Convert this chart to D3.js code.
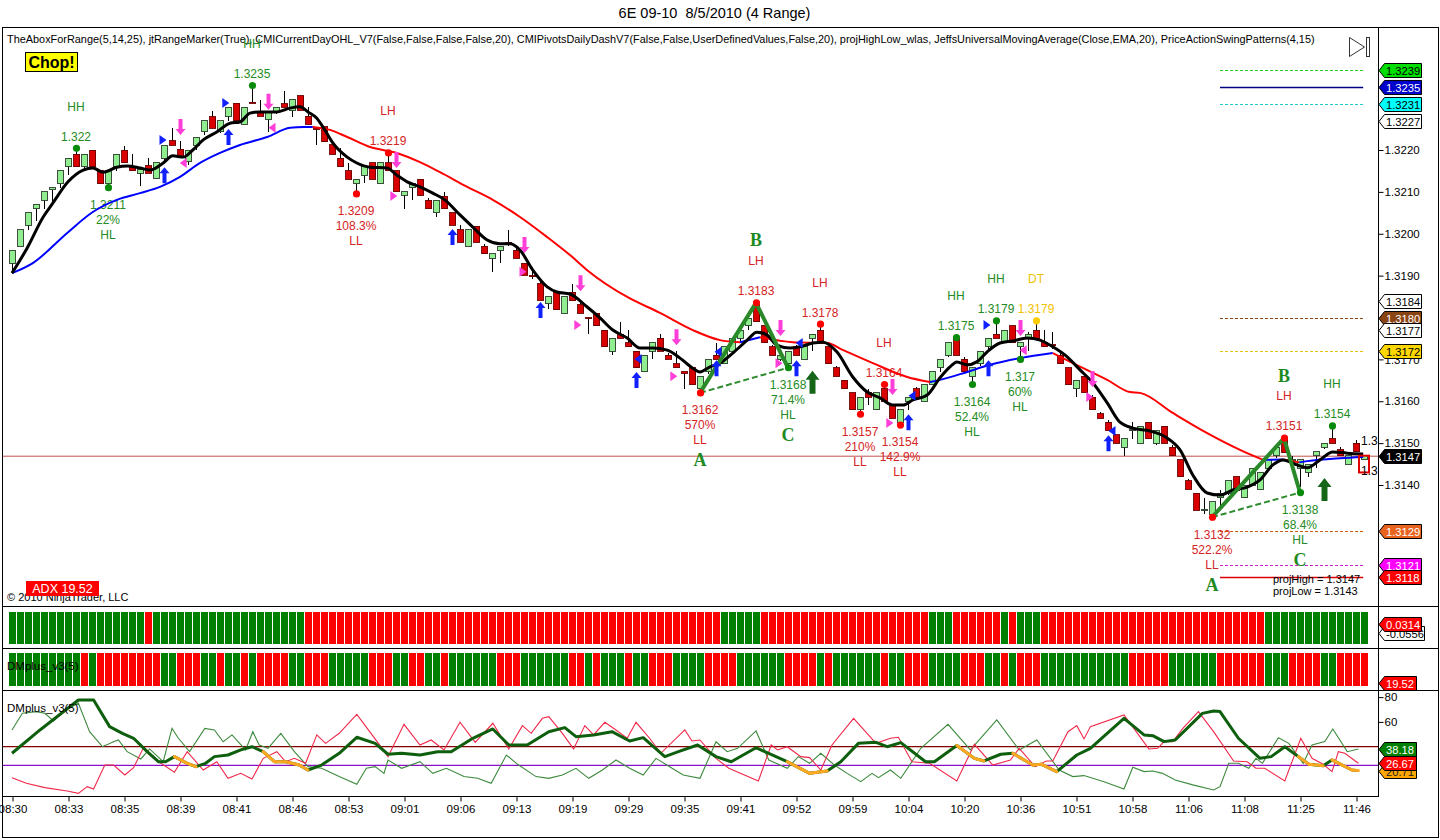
<!DOCTYPE html>
<html><head><meta charset="utf-8">
<script src="https://cdn.jsdelivr.net/npm/d3@7"></script>
<style>
html,body{margin:0;padding:0;background:#fff;overflow:hidden;}
svg{display:block;}
</style></head><body>
<svg id="c" width="1440" height="840"></svg>
<script>
// ---------------- DATA ----------------
const chartTitle = "6E 09-10  8/5/2010 (4 Range)";
const indicatorLine = "TheAboxForRange(5,14,25), jtRangeMarker(True), CMICurrentDayOHL_V7(False,False,False,False,20), CMIPivotsDailyDashV7(False,False,UserDefinedValues,False,20), projHighLow_wlas, JeffsUniversalMovingAverage(Close,EMA,20), PriceActionSwingPatterns(4,15)";

const timeLabels = ["08:30","08:33","08:35","08:39","08:41","08:46","08:53","09:01","09:06","09:13","09:19","09:29","09:35","09:41","09:52","09:59","10:04","10:20","10:36","10:51","10:58","11:06","11:08","11:25","11:46"];
const tickBars = [0,7,14,21,28,35,42,49,56,63,70,77,84,91,98,105,112,119,126,133,140,147,154,161,168];
const priceTicks = [1.3140,1.3150,1.3160,1.3170,1.3190,1.3200,1.3210,1.3220];
const indTicks = [60,80];

const open = [1.3193,1.3197,1.3202,1.3206,1.3208,1.32105,1.3212,1.3216,1.3219,1.3216,
1.3220,1.3215,1.3212,1.3216,1.3220,1.3216,1.32145,1.32162,1.32132,1.3218,
1.32222,1.32202,1.32172,1.32211,1.32243,1.3228,1.32243,1.32281,1.32312,1.32262,
1.32314,1.32292,1.32272,1.32292,1.32311,1.32295,1.3233,1.32281,1.32252,1.32255,
1.32212,1.3218,1.3215,1.3212,1.3214,1.3217,1.3212,1.3217,1.3215,1.32092,
1.3211,1.3213,1.3208,1.3205,1.3209,1.3205,1.3201,1.3197,1.32018,1.3197,
1.31941,1.31961,1.31978,1.31961,1.3193,1.3190,1.31881,1.31833,1.31861,1.3181,
1.3186,1.3183,1.3180,1.3181,1.3177,1.3172,1.3176,1.3174,1.3172,1.3167,
1.3172,1.3175,1.3171,1.3169,1.3167,1.3168,1.3163,1.3167,1.3171,1.3169,
1.3172,1.3175,1.3178,1.3183,1.3178,1.3173,1.3170,1.3169,1.3173,1.3170,
1.3175,1.3177,1.3173,1.3168,1.3165,1.3162,1.3158,1.3162,1.3158,1.3163,
1.3159,1.3155,1.3160,1.3163,1.3160,1.3164,1.3168,1.3171,1.3175,1.3170,
1.3166,1.3169,1.3173,1.3176,1.3174,1.3178,1.3173,1.3175,1.3177,1.3174,
1.31735,1.3171,1.3168,1.3163,1.3166,1.3161,1.3157,1.3155,1.3152,1.3149,
1.3153,1.3150,1.3155,1.3150,1.3154,1.3149,1.3146,1.3141,1.3138,1.3134,
1.3133,1.3137,1.3138,1.3142,1.3137,1.3140,1.3139,1.3144,1.3147,1.3151,
1.3146,1.3144,1.3143,1.3147,1.3149,1.3151,1.31484,1.3145,1.3150,1.3146];
const high = [1.3196,1.3201,1.3205,1.3207,1.3210,1.3211,1.3215,1.3218,1.32204,1.3219,
1.3220,1.3215,1.3215,1.3219,1.3221,1.3219,1.32155,1.3218,1.3217,1.3221,
1.32252,1.32222,1.3220,1.3223,1.3227,1.32292,1.3227,1.32302,1.32312,1.32302,
1.32354,1.3232,1.32292,1.32302,1.32341,1.32321,1.3233,1.32302,1.32255,1.32255,
1.32215,1.32204,1.32168,1.3213,1.3216,1.3217,1.3217,1.32193,1.3215,1.3210,
1.3212,1.3213,1.32085,1.3208,1.3210,1.3205,1.3202,1.3201,1.32018,1.31975,
1.31952,1.3197,1.3201,1.31965,1.3193,1.31921,1.31885,1.3185,1.31861,1.31851,
1.3188,1.31835,1.31802,1.3181,1.3177,1.3175,1.3179,1.3177,1.3172,1.3171,
1.3174,1.3176,1.31715,1.3172,1.3167,1.3168,1.3166,1.3170,1.3174,1.3173,
1.3175,1.3177,1.3180,1.31835,1.3178,1.31735,1.3171,1.3172,1.31735,1.3173,
1.3176,1.31784,1.3173,1.31685,1.3165,1.3162,1.3161,1.3163,1.3162,1.3164,
1.3159,1.3158,1.3161,1.31635,1.3164,1.3167,1.3170,1.3174,1.31752,1.31705,
1.3168,1.3172,1.3175,1.31792,1.3177,1.3178,1.3174,1.31765,1.31792,1.3177,
1.31765,1.31715,1.3168,1.3165,1.3166,1.31615,1.31575,1.31555,1.3152,1.3151,
1.3155,1.3154,1.3155,1.3153,1.3154,1.31495,1.3146,1.31415,1.3138,1.3137,
1.3136,1.31388,1.3141,1.3142,1.3140,1.3144,1.3143,1.3146,1.3149,1.31512,
1.3147,1.3146,1.3145,1.3148,1.3150,1.31541,1.3149,1.3147,1.31508,1.3147];
const low = [1.3191,1.3197,1.3201,1.3203,1.3206,1.3207,1.3211,1.3214,1.3216,1.3215,
1.3216,1.3212,1.3211,1.3215,1.3217,1.3215,1.32115,1.32144,1.3213,1.32175,
1.32211,1.32183,1.32165,1.3220,1.32235,1.32252,1.3224,1.3227,1.3227,1.32262,
1.32312,1.32281,1.32244,1.32285,1.32302,1.32279,1.32295,1.32262,1.32212,1.3222,
1.3219,1.3216,1.3213,1.32095,1.32122,1.3213,1.3212,1.3215,1.3210,1.3206,
1.3208,1.3209,1.3206,1.3204,1.3206,1.3202,1.3198,1.3197,1.3198,1.31952,
1.31909,1.31929,1.3197,1.31941,1.31901,1.31891,1.31841,1.3182,1.31819,1.3181,
1.3184,1.3181,1.3176,1.3178,1.3173,1.3171,1.3175,1.3173,1.3168,1.3167,
1.3170,1.3172,1.3170,1.3168,1.3163,1.3164,1.3162,1.31665,1.3170,1.3169,
1.3172,1.3174,1.3177,1.3179,1.3174,1.3171,1.31695,1.3168,1.3171,1.3170,
1.3172,1.3174,1.3169,1.3166,1.3163,1.3158,1.31569,1.3159,1.3158,1.3160,
1.3156,1.31543,1.3158,1.3161,1.3160,1.3164,1.3167,1.31705,1.3171,1.3167,
1.3164,1.31685,1.3172,1.3175,1.3174,1.3174,1.3170,1.3172,1.3175,1.3173,
1.31725,1.3169,1.3164,1.3161,1.3162,1.3158,1.3156,1.3153,1.3150,1.3147,
1.3151,1.3150,1.3151,1.31495,1.3150,1.3147,1.3142,1.3139,1.3134,1.3133,
1.31323,1.3135,1.31375,1.31388,1.3137,1.31398,1.3139,1.31435,1.31465,1.31477,
1.3143,1.31395,1.3142,1.3144,1.31485,1.3150,1.3147,1.3145,1.3148,1.3146];
const close = [1.3196,1.3201,1.3205,1.3207,1.3210,1.3211,1.3215,1.3218,1.3216,1.3219,
1.3216,1.3212,1.3215,1.3219,1.3217,1.3215,1.32153,1.32144,1.3217,1.3221,
1.32211,1.32183,1.3220,1.3223,1.3227,1.32252,1.3227,1.32302,1.3227,1.32302,
1.32312,1.32281,1.32292,1.32302,1.32302,1.32321,1.32295,1.32262,1.3225,1.3222,
1.3219,1.3216,1.3213,1.3213,1.3216,1.3213,1.3217,1.3215,1.3210,1.3210,
1.3212,1.32092,1.3206,1.3208,1.3206,1.3202,1.3198,1.3201,1.3198,1.31952,
1.31952,1.3197,1.31975,1.31941,1.31901,1.31898,1.31841,1.31849,1.31819,1.31851,
1.3184,1.3181,1.31798,1.3178,1.3173,1.3175,1.3175,1.3173,1.3168,1.3171,
1.3174,1.3172,1.3170,1.3168,1.31668,1.3164,1.3166,1.3170,1.3170,1.3173,
1.3175,1.3177,1.31798,1.3179,1.3174,1.3171,1.3171,1.3172,1.3171,1.3173,
1.3176,1.3174,1.3169,1.3166,1.3163,1.3158,1.3161,1.3161,1.3162,1.3160,
1.3156,1.3158,1.3161,1.3161,1.3164,1.3167,1.3170,1.3174,1.3171,1.3167,
1.3168,1.3172,1.3175,1.3175,1.3177,1.3174,1.3174,1.3176,1.3175,1.3173,
1.31733,1.3169,1.3164,1.3165,1.3162,1.3158,1.3156,1.3153,1.3150,1.3151,
1.31532,1.3154,1.3151,1.3153,1.3150,1.3147,1.3142,1.3139,1.3134,1.31342,
1.3136,1.3138,1.3141,1.31388,1.3140,1.3144,1.3143,1.3146,1.3149,1.31477,
1.31462,1.3146,1.3145,1.3148,1.3150,1.3150,1.3147,1.3147,1.3148,1.3147];

// fast moving average (black), read at sample bars
const maBar = [0,1.9,3.9,5.1,7,8.9,10.1,11.4,13.1,14.4,
16,17.25,18.9,20.1,21.4,22.6,23.9,25.6,27.25,28.5,
29.75,31,33.1,34.75,36,37,38.1,39.1,40.1,41.9,
43.1,44.75,46.9,48.1,49.4,51,52.6,54.1,56,57.6,
59.4,61,62.25,63.5,65.1,66.9,68.1,69.75,71.9,73.5,
75.1,76.9,78.5,80.1,81.9,83.5,85.1,86,87.25,88.5,
90.1,91.9,93.1,94.4,95.6,97.25,98.5,100.1,101.4,103.1,
105.1,106.9,108.5,110.1,111.4,112.6,114.4,116,117.25,118.1,
119.4,120.6,121.9,123.5,125.1,126.9,128.5,130.1,131.9,133.5,
135.1,136.9,138.5,140.1,142.25,144.4,146,147.6,149.4,151,
152.6,154.4,156,157.6,158.9,160.6,161.9,163.5,165.1,166.9,168.9];
const maVal = [1.31906,1.31966,1.32040,1.32073,1.32124,1.32152,1.32157,1.32147,1.32159,1.32162,
1.32157,1.32152,1.32169,1.32186,1.32183,1.32200,1.32224,1.32243,1.32264,1.32267,
1.32288,1.32291,1.32291,1.32300,1.32303,1.32291,1.32276,1.32248,1.32217,1.32183,
1.32169,1.32159,1.32157,1.32140,1.32124,1.32112,1.32097,1.32081,1.32045,1.32016,
1.31985,1.31976,1.31976,1.31961,1.31913,1.31873,1.31861,1.31856,1.31825,1.31799,
1.31770,1.31751,1.31727,1.31727,1.31722,1.31703,1.31679,1.31670,1.31682,1.31691,
1.31715,1.31746,1.31765,1.31758,1.31734,1.31727,1.31730,1.31739,1.31741,1.31718,
1.31658,1.31622,1.31608,1.31591,1.31591,1.31603,1.31615,1.31656,1.31682,1.31694,
1.31687,1.31694,1.31718,1.31739,1.31744,1.31751,1.31746,1.31730,1.31706,1.31675,
1.31644,1.31596,1.31550,1.31536,1.31529,1.31512,1.31484,1.31424,1.31381,1.31376,
1.31388,1.31395,1.31412,1.31448,1.31460,1.31448,1.31441,1.31460,1.31479,1.31476,1.31474];

// EMA(20) (blue rising / red falling), read at sample bars
const emaBar = [0,2.6,6.9,10.1,13.1,16,18.5,21,23.5,26,
28.5,31.9,34.75,36.5,37.6,39.75,41.9,44.75,48.1,51,
53.5,56.9,60.1,63.5,66.9,69.75,71.9,76.9,81,85.1,
88.5,91,93.5,97.6,101.9,103.9,107.6,111.9,114.75,116,
119.4,122.25,126,130.1,132.6,136.9,139.75,141,145.1,149.4,
153.5,156.4,158.9,160.9,161.9,166,168.9];
const emaVal = [1.31906,1.31930,1.32002,1.32052,1.32081,1.32097,1.32112,1.32136,1.32169,1.32193,
1.32212,1.32231,1.32253,1.32255,1.32255,1.32248,1.32231,1.32207,1.32193,1.32171,
1.32147,1.32112,1.32081,1.32040,1.31992,1.31949,1.31913,1.31849,1.31811,1.31770,
1.31746,1.31741,1.31753,1.31741,1.31739,1.31722,1.31691,1.31658,1.31646,1.31651,
1.31670,1.31687,1.31703,1.31715,1.31691,1.31651,1.31622,1.31620,1.31572,1.31524,
1.31484,1.31460,1.31461,1.31454,1.31457,1.31464,1.31467];

// swing points
const swingBar   = [8,12,30,43,47,86,93,97,101,106,109,111,118,120,123,126,128,150,159,161,165];
const swingPrice = [1.32204,1.3211,1.32354,1.32095,1.32193,1.3162,1.31835,1.3168,1.31784,1.31569,1.3164,1.31543,1.31752,1.3164,1.31792,1.3170,1.31792,1.31323,1.31512,1.31382,1.31541];
const swingKind  = ["H","L","H","L","H","L","H","L","H","L","H","L","H","L","H","L","H","L","H","L","H"];
const swingText  = ["1.322","1.3211","1.3235","1.3209","1.3219","1.3162","1.3183","1.3168","1.3178","1.3157","1.3164","1.3154","1.3175","1.3164","1.3179","1.317","1.3179","1.3132","1.3151","1.3138","1.3154"];
const swingPct   = ["","22%","","108.3%","","570%","","71.4%","","210%","","142.9%","","52.4%","","60%","","522.2%","","68.4%",""];
const swingLabel = ["HH","HL","HH","LL","LH","LL","LH","HL","LH","LL","LH","LL","HH","HL","HH","HL","DT","LL","LH","HL","HH"];
const swingABC   = ["","","","","","A","B","C","","","","","","","","","","A","B","C",""];
const abcGroups  = [[86,93,97],[150,159,161]];

// markers (bar, price)
const blueUpBar = [19,27,55,66,78,88,98,112,122,137];
const blueUpPrice = [1.3214,1.32231,1.31992,1.31818,1.31651,1.31679,1.31679,1.3155,1.31679,1.3150];
const pinkDownBar = [21,32,48,64,71,83,96,110,126,135];
const pinkDownPrice = [1.32255,1.32315,1.32176,1.31973,1.31882,1.31753,1.31775,1.31634,1.31775,1.31653];
const blueRightBar = [18.75,26.6,121.75];
const blueRightPrice = [1.32224,1.32312,1.31782];
const pinkLeftBar = [21.4,32.5,126.4];
const pinkLeftPrice = [1.32169,1.32253,1.31722];
const pinkRightBar = [47.6,63.75,70.6,82.6,95.75,109.6,134.6];
const pinkRightPrice = [1.3209,1.31909,1.31782,1.3166,1.31691,1.31548,1.3161];
const blueLeftBar = [78.25,88.25,98.4,112.5,137.5];
const blueLeftPrice = [1.31701,1.31718,1.31739,1.31613,1.31529];
const greenUpBar = [100,164];
const greenUpPrice = [1.31644,1.31388];

// levels and labels
const levelPrice = [1.3239,1.3235,1.3231,1.3180,1.3172,1.3129,1.3121,1.3118];
const levelFromBar = 151, levelToBar = 168.9;
const lastPrice = 1.3147;
const projHigh = 1.3147, projLow = 1.3143;
const axisLabelPrice = [1.3239,1.3235,1.3231,1.3227,1.3184,1.3180,1.3177,1.3172,1.3147,1.3129,1.3121,1.3118];
const adxValue = 19.52;
const indLabelVal = [20.71,26.67,38.18];

// bottom panels: run-length colour sequences per bar
const panel2Runs = [["G",17],["R",1],["G",19],["R",52],["G",5],["R",21],["G",3],["R",6],["G",1],["R",1],["G",3],["R",28],["G",13]];
const panel3Runs = [["G",9],["R",1],["G",1],["R",8],["G",2],["R",3],["G",2],["R",1],["G",2],["R",1],["G",1],["R",4],["G",2],["R",3],["G",5],["R",3],["G",2],["R",2],["G",2],["R",1],["G",6],["R",3],["G",6],["R",2],["G",1],["R",1],["G",3],["R",1],["G",2],["R",3],["G",4],["R",4],["G",6],["R",4],["G",1],["R",1],["G",6],["R",1],["G",2],["R",3],["G",4],["R",3],["G",2],["R",1],["G",1],["R",3],["G",11],["R",5],["G",6],["R",6],["G",3],["R",4],["G",2],["R",4]];

// DMplus panel
const adxBar = [0,3.5,8.3,10.2,12.2,13.8,15.2,16.9,18.3,19.2,
20.3,21.9,23,24.2,25.3,27,28.6,30,31.4,32.8,
34.2,35.9,37,38.7,40.9,43.1,45.4,47,48.7,51,
53.2,54.9,57.6,60.1,62.1,64.4,67.1,69.1,70.5,72.7,
75,77.2,78.9,81.6,83.3,85.7,88,89.9,93,96.9,
99.7,101.9,103.6,105.8,108,109.4,111.1,114.2,115.3,118.1,
120.3,121.5,123.6,125.1,127.6,128.7,130.6,133.1,134.8,139,
141.5,142.6,144,145.4,148.8,150.2,151,153.3,156,157.4,
159.1,160.8,162.1,163.9,165,166.1,167.5,168.3];
const adxVal = [34.7,53.5,77.7,77.7,56.2,50.8,46.8,36,27.9,27.9,
32,26.6,23.9,26.6,32,33.3,37.4,40,36,27.9,
27.9,25.2,21.2,25.2,34.7,47.6,42.7,33.9,34.7,33.3,
36,36,46.8,54.3,41.4,41.4,52.1,55.4,48.1,49.5,
52.1,44.6,47.3,32,36,41.4,32,27.9,39.2,27.9,
18.5,20.4,27.9,42.7,43.5,40,43.3,27.9,27.9,40.9,
30.6,28.5,33.9,34.7,25.2,25.8,19.9,33.3,38.7,62.9,
49.5,48.9,44.1,45.4,66.9,68.8,68.3,46.8,30.6,32,
40,32,25.8,24.7,29.3,25.8,21.2,20.71];
const adxWeak = [0,0,0,0,0,0,0,0,0,0,
1,1,0,0,0,0,0,0,1,1,
1,1,0,0,0,0,0,0,0,0,
0,0,0,0,0,0,0,0,0,0,
0,0,0,0,0,0,0,0,0,1,
1,0,0,0,0,0,0,0,0,1,
1,0,0,1,1,1,0,0,0,0,
0,0,0,0,0,0,0,0,0,0,
0,1,1,0,1,1,1,0];
const plusBar = [0,1.3,3,4.1,5.2,6.6,8.3,9.7,11.3,12.7,
13.3,14.4,16.1,17.2,18.9,20,20.8,22.2,24.1,25.3,
26.4,27.5,29.2,30.1,30.9,32,33.6,35.3,37,38.7,
40.9,43.1,44.3,45.4,46.5,47,48.7,51,52.6,54.3,
56.5,58.2,59.9,61.8,63.2,65.5,67.1,68.8,70.5,72.1,
73.8,75.5,77.2,78.9,80.5,82.2,83.9,86,88,89.4,
90.7,93,94.6,96.9,98.3,99.7,101.1,102.8,104.4,106.1,
107.5,108.3,109.8,111.1,113.6,117,119.8,123.1,125.9,128.1,
130.9,132.6,134,136.5,139,140.1,141.5,142.6,143.8,145.4,
147.6,150.2,151,152.1,153.3,154.6,155.5,156.3,158.3,159.6,
161.4,162.5,164.1,165.1,166.9,168.3];
const plusVal = [53.5,67,68.3,67,60.7,69.6,75,52.1,40,44,
45.4,36,30.1,38.2,27.9,54.8,46.8,36,54.8,53.5,
44,49.5,37.4,52.1,41.4,38.7,50.8,36,23.9,22.6,
15.9,9.7,22.6,23.9,18.5,29.3,22.6,27.9,18.5,22.6,
15.9,14.5,10.5,33.3,25.8,15.9,14.5,17.2,22.6,14.5,
21.2,29.3,22.6,17.2,30.6,23.9,17.2,14.5,44,36,
38.7,52.7,29.3,22.6,32,26.6,34.7,25.2,18.5,11.8,
18.5,15,21.2,14.5,38.7,58,37.4,61.6,37.4,45.4,
21.2,15.9,16.7,11.8,5.9,23.4,19.9,20.4,18.5,13.2,
9.2,5.1,7.8,26.6,26.6,22.6,30.6,26.6,47.3,42.7,
26.6,41.4,44.1,54.3,36,38.18];
const minusBar = [0,1.8,4.1,6.9,8.3,9.4,10.2,11.6,12.7,14.1,
15.2,16.4,17.7,20.3,21.9,23.9,25.6,27,28.6,30,
31.4,33.1,34.2,35.3,36.7,38.1,39.2,40.9,43.1,45.9,
47,49,51,52.4,54,56,57.9,60.1,62.1,63.8,
64.9,66.3,67.1,68.8,70.2,71.6,72.7,74.1,75.5,76.9,
78,79.7,81.1,84.1,85,86,88,89.6,93.3,94.9,
95.7,96.9,98.6,99.7,101.1,102.5,105.2,108,109.8,110.8,
112.5,114.7,118.1,120.3,122.6,124.8,125.9,127.9,129.3,130.1,
132,133.1,134,134.8,139,142.1,143.2,144,145.1,146.3,
148.3,150.2,152.7,154.4,155.5,156.6,159.1,161.1,162.5,163.9,
165,165.8,166.6,168.3];
const minusVal = [15,10.5,7,4.3,2.4,7.8,5.9,25.2,25.2,17.2,
23.1,38.7,30.6,19.4,36,21.2,27.9,14.5,18.5,14,
30.6,36,27.9,30.6,26.6,49.5,42.7,50.8,66.1,41.9,
32,58,41.4,45.4,37.4,59.7,43.5,58.9,38.2,57,
50.8,62.9,64.2,50.8,38.2,57,49.5,59.7,53.5,46.8,
59.7,46.8,34.7,53.5,44.6,45.4,30.6,22.6,12.4,41.4,
37.4,40,32,31.2,21.2,41.4,62.9,42.7,46.8,47.6,
27.9,26.6,12.4,41.9,25.2,29.3,38.7,23.9,28.5,28.5,
52.1,57,46.3,56.2,65.6,38.2,38.7,44.1,44.1,54.3,
68.3,52.1,28.5,27.9,22.6,22.6,12.4,46.8,30.6,25.8,
19.9,36,34.7,26.67];
const indLevels = [40,25];

// ---------------- STYLE / LAYOUT ----------------
const FONT = '"Liberation Sans", Arial, Helvetica, sans-serif';
const GREEN_T = "#238b23", RED_T = "#d42424", GOLD_T = "#f2c200";
const axisLabelFill = ["#00dd00","#0000cc","#00ffff","#ffffff","#ffffff","#8b4513","#ffffff","#ffd700","#000000","#e8641e","#ff00ff","#ff0000"];
const axisLabelText = ["#000","#fff","#000","#000","#000","#fff","#000","#000","#fff","#fff","#fff","#fff"];
const levelColor = ["#22cc22","#000080","#22cccc","#8b4513","#e6c300","#cc5a10","#cc22cc","#dd0000"];
const levelDash = ["3,2",null,"3,2","3,2","3,2","3,2","3,2",null];
const indLabelFill = ["#ffa500","#ff0000","#008000"];
const indLabelText = ["#222","#fff","#fff"];
const indLevelColor = ["#800000","#8a10c8"];

const PR = 1378.5;           // price axis x
const MAIN_TOP = 28, MAIN_BOT = 606;
const P2 = [612, 644], P3 = [652.5, 686];
const AX_Y = 796.5;

const svg = d3.select("#c").attr("font-family", FONT);
const x = d3.scaleLinear().domain([0, 168]).range([12, 1356]);
const y = d3.scaleLinear().domain([1.3140, 1.3220]).range([485, 150]);
const yI = d3.scaleLinear().domain([0, 80]).range([796.3, 697.1]);

const defs = svg.append("defs");
defs.append("clipPath").attr("id","clipMain").append("rect").attr("x",3).attr("y",MAIN_TOP).attr("width",PR-3).attr("height",MAIN_BOT-MAIN_TOP);
defs.append("clipPath").attr("id","clipInd").append("rect").attr("x",3).attr("y",691).attr("width",PR-3).attr("height",105);

// title
svg.append("text").attr("x",714.5).attr("y",18).attr("text-anchor","middle").attr("font-size",14.5)
  .style("white-space","pre").attr("xml:space","preserve").text(chartTitle);

// indicator header line, font sized to span the same width as the reference
const hdr = svg.append("text").attr("x",7).attr("y",43).attr("font-size",12).text(indicatorLine);
const hw = hdr.node().getComputedTextLength();
if (hw > 0) hdr.attr("font-size", (12*1309/hw).toFixed(2));

// ---------------- MAIN PANEL ----------------
const main = svg.append("g").attr("clip-path","url(#clipMain)");

// current price line
main.append("line").attr("x1",3).attr("x2",PR).attr("y1",y(lastPrice)+0.5).attr("y2",y(lastPrice)+0.5).attr("stroke","#c05050").attr("stroke-width",1);

// right-side level lines
levelPrice.forEach((p,k)=>{
  main.append("line").attr("x1",x(levelFromBar)).attr("x2",x(levelToBar))
    .attr("y1",Math.round(y(p))+0.5).attr("y2",Math.round(y(p))+0.5)
    .attr("stroke",levelColor[k]).attr("stroke-width",levelDash[k]?1:1.4)
    .attr("stroke-dasharray",levelDash[k]);
});

// swing texts
const txt = (g,cx,cy,s,col)=> g.append("text").attr("x",cx).attr("y",cy).attr("dy","0.36em").attr("text-anchor","middle").attr("font-size",12).attr("fill",col).text(s);
const gTxt = main.append("g");
swingBar.forEach((b,k)=>{
  const cx = x(b), cy = y(swingPrice[k]);
  const lab = swingLabel[k];
  const col = lab==="DT" ? GOLD_T : (lab==="HH"||lab==="HL") ? GREEN_T : RED_T;
  const letter = (ly)=> gTxt.append("text").attr("x",cx).attr("y",ly).attr("dy","0.36em").attr("text-anchor","middle")
      .attr("font-family",'"Liberation Serif","Times New Roman",serif').attr("font-weight","bold").attr("font-size",18).attr("fill","#1f8a1f").text(swingABC[k]);
  if (swingKind[k]==="H") {
    txt(gTxt,cx,cy-12,swingText[k],col);
    txt(gTxt,cx,cy-42,lab,col);
    if (swingABC[k]) letter(cy-63);
  } else {
    txt(gTxt,cx,cy+17,swingText[k],col);
    txt(gTxt,cx,cy+32,swingPct[k],col);
    txt(gTxt,cx,cy+47,lab,col);
    if (swingABC[k]) letter(cy+67);
  }
});

// candles
const bars = open.map((o,i)=>({i,o,h:high[i],l:low[i],c:close[i]}));
const gCand = main.append("g").attr("shape-rendering","crispEdges");
gCand.selectAll("line").data(bars).join("line")
  .attr("x1",d=>x(d.i)+0.5).attr("x2",d=>x(d.i)+0.5)
  .attr("y1",d=>y(d.h)).attr("y2",d=>y(d.l)).attr("stroke","#000").attr("stroke-width",1);
gCand.selectAll("rect").data(bars).join("rect")
  .attr("x",d=>x(d.i)-2.5).attr("width",6)
  .attr("y",d=>y(Math.max(d.o,d.c)))
  .attr("height",d=>Math.max(1.2, Math.abs(y(d.o)-y(d.c))))
  .attr("fill",d=>d.c>=d.o ? "#90ee90" : "#d80000")
  .attr("stroke",d=>d.c>=d.o ? "#2c3c2c" : "#6a0000").attr("stroke-width",0.9);

// EMA (blue rising, red falling)
const emaPts = emaBar.map((b,k)=>[b,emaVal[k]]);
const runs = [];
for (let k=0;k<emaPts.length-1;k++){
  const col = emaPts[k+1][1] >= emaPts[k][1] ? "#0000ff" : "#ff0000";
  if (runs.length && runs[runs.length-1].col===col) runs[runs.length-1].pts.push(emaPts[k+1]);
  else runs.push({col, pts:[emaPts[k],emaPts[k+1]]});
}
const lineP = d3.line().x(d=>x(d[0])).y(d=>y(d[1])).curve(d3.curveMonotoneX);
runs.forEach(r=> main.append("path").attr("d",lineP(r.pts)).attr("fill","none").attr("stroke",r.col).attr("stroke-width",2));

// fast MA black
main.append("path").attr("d",lineP(maBar.map((b,k)=>[b,maVal[k]]))).attr("fill","none").attr("stroke","#000").attr("stroke-width",3).attr("stroke-linejoin","round");

// ABC patterns
const lineS = d3.line().x(d=>x(d[0])).y(d=>y(d[1]));
abcGroups.forEach(g=>{
  const pts = g.map(b=>[b, swingPrice[swingBar.indexOf(b)]]);
  main.append("path").attr("d",lineS([pts[0],pts[2]])).attr("fill","none").attr("stroke","#2e8b2e").attr("stroke-width",2).attr("stroke-dasharray","6,3");
  main.append("path").attr("d",lineS(pts)).attr("fill","none").attr("stroke","#2a8a2a").attr("stroke-width",4).attr("stroke-linejoin","round");
});

// swing dots
swingBar.forEach((b,k)=>{
  const lab = swingLabel[k];
  const col = lab==="DT" ? "#ffcc00" : (lab==="HH"||lab==="HL") ? "#0a8a0a" : "#ff0000";
  main.append("circle").attr("cx",x(b)+0.5).attr("cy",y(swingPrice[k])).attr("r",3.6).attr("fill",col);
});

// markers
const mk = (bs,ps,path,col)=> bs.forEach((b,k)=> main.append("path").attr("d",path).attr("fill",col)
   .attr("transform",`translate(${x(b)+0.5},${y(ps[k])})`));
mk(blueUpBar,blueUpPrice,"M0,-8L5,-2L2,-2L2,8L-2,8L-2,-2L-5,-2Z","#1020ff");
mk(pinkDownBar,pinkDownPrice,"M0,8L5,2L2,2L2,-8L-2,-8L-2,2L-5,2Z","#ff3fd8");
mk(blueRightBar,blueRightPrice,"M-3,-5L4,0L-3,5Z","#1020ff");
mk(blueLeftBar,blueLeftPrice,"M3,-5L-4,0L3,5Z","#1020ff");
mk(pinkRightBar,pinkRightPrice,"M-3,-5L4,0L-3,5Z","#ff3fd8");
mk(pinkLeftBar,pinkLeftPrice,"M3,-5L-4,0L3,5Z","#ff3fd8");
mk(greenUpBar,greenUpPrice,"M0,-12L7,-3L3,-3L3,11L-3,11L-3,-3L-7,-3Z","#16661a");

// projection box + texts
const lastBar = open.length-1;
main.append("rect").attr("x",x(lastBar)-5).attr("width",10).attr("y",y(projHigh)).attr("height",y(projLow)-y(projHigh))
  .attr("fill","none").attr("stroke","#e00000").attr("stroke-width",2);
main.append("text").attr("x",x(lastBar)-3).attr("y",y(1.31505)).attr("dy","0.36em").attr("font-size",12).text("1.3150");
main.append("text").attr("x",x(lastBar)-3).attr("y",y(1.31435)).attr("dy","0.36em").attr("font-size",12).text("1.3142");
main.append("text").attr("x",1273).attr("y",583).attr("font-size",11).text("projHigh = " + projHigh.toFixed(4));
main.append("text").attr("x",1273).attr("y",595).attr("font-size",11).text("projLow = " + projLow.toFixed(4));

// Chop! label
main.append("rect").attr("x",25.5).attr("y",52.5).attr("width",52).attr("height",19).attr("fill","#ffff00").attr("stroke","#000");
main.append("text").attr("x",51.5).attr("y",68).attr("text-anchor","middle").attr("font-weight","bold").attr("font-size",16).text("Chop!");

// play/end icon
main.append("path").attr("d","M1349.5,37.5L1364.5,47L1349.5,56.5Z").attr("fill","none").attr("stroke","#333").attr("stroke-width",1);
main.append("rect").attr("x",1366.5).attr("y",37.5).attr("width",3).attr("height",19).attr("fill","none").attr("stroke","#333");

// copyright + ADX box
main.append("text").attr("x",7).attr("y",600.5).attr("font-size",11).text("\u00A9 2010 NinjaTrader, LLC");
main.append("rect").attr("x",26).attr("y",581).attr("width",73).attr("height",15).attr("fill","#ff0000");
main.append("text").attr("x",62.5).attr("y",593).attr("text-anchor","middle").attr("font-size",12.5).attr("fill","#fff").text("ADX " + adxValue.toFixed(2));

// ---------------- PRICE AXIS ----------------
const ga = svg.append("g").attr("transform",`translate(${PR},0)`)
  .call(d3.axisRight(y).tickValues(priceTicks).tickFormat(d3.format(".4f")).tickSize(5).tickPadding(1));
ga.select(".domain").remove();
ga.attr("font-family",FONT).attr("font-size",11.5);
ga.selectAll("line").attr("stroke","#000");
ga.selectAll("text").attr("fill","#000");

function flag(yc, label, fill, fg, w){
  yc = Math.round(yc)+0.5;
  svg.append("path").attr("d",`M${PR+0.5},${yc}L${PR+6},${yc-7}L${PR+6+w},${yc-7}L${PR+6+w},${yc+7}L${PR+6},${yc+7}Z`)
    .attr("fill",fill).attr("stroke","#000").attr("stroke-width",1);
  svg.append("text").attr("x",PR+7.5).attr("y",yc+4.2).attr("font-size",11.2).attr("fill",fg).text(label);
}
axisLabelPrice.forEach((p,k)=> flag(y(p), p.toFixed(4), axisLabelFill[k], axisLabelText[k], 37));

// ---------------- PANEL 2 & 3 (colour bars) ----------------
const expand = runs2 => runs2.flatMap(([c,n])=> Array.from({length:n},()=>c));
const p2 = expand(panel2Runs), p3 = expand(panel3Runs);
const colMap = {G:"#008000", R:"#ff0000"};
svg.append("g").attr("shape-rendering","crispEdges").selectAll("rect").data(p2).join("rect")
  .attr("x",(d,i)=>x(i)-3).attr("width",6.5).attr("y",P2[0]).attr("height",P2[1]-P2[0]).attr("fill",d=>colMap[d]);
svg.append("g").attr("shape-rendering","crispEdges").selectAll("rect").data(p3).join("rect")
  .attr("x",(d,i)=>x(i)-3).attr("width",6.5).attr("y",P3[0]).attr("height",P3[1]-P3[0]).attr("fill",d=>colMap[d]);
svg.append("text").attr("x",7).attr("y",670).attr("font-size",11.5).text("DMplus_v3(5)");

flag(633, "-0.0556", "#ffffff", "#000", 40);
flag(624, "0.0314", "#ff0000", "#fff", 37);
flag(683, adxValue.toFixed(2), "#ff0000", "#fff", 32);

// ---------------- PANEL 4 (DMplus) ----------------
const ind = svg.append("g").attr("clip-path","url(#clipInd)");
indLevels.forEach((v,k)=> ind.append("line").attr("x1",3).attr("x2",PR).attr("y1",yI(v)).attr("y2",yI(v)).attr("stroke",indLevelColor[k]).attr("stroke-width",1.2));
const lineI = d3.line().x(d=>x(d[0])).y(d=>yI(d[1]));
ind.append("path").attr("d",lineI(plusBar.map((b,k)=>[b,plusVal[k]]))).attr("fill","none").attr("stroke","#3d8a3d").attr("stroke-width",1.1);
ind.append("path").attr("d",lineI(minusBar.map((b,k)=>[b,minusVal[k]]))).attr("fill","none").attr("stroke","#f0284a").attr("stroke-width",1.1);
const adxPts = adxBar.map((b,k)=>[b,adxVal[k]]);
ind.append("path").attr("d",lineI(adxPts)).attr("fill","none").attr("stroke","#0d5e0d").attr("stroke-width",3).attr("stroke-linejoin","round");
for (let k=0;k<adxPts.length-1;k++){
  if (adxWeak[k]) ind.append("path").attr("d",lineI([adxPts[k],adxPts[k+1]])).attr("fill","none").attr("stroke","#ffa820").attr("stroke-width",3).attr("stroke-linecap","round");
}
ind.append("text").attr("x",7).attr("y",712).attr("font-size",11.5).text("DMplus_v3(5)");

const gi = svg.append("g").attr("transform",`translate(${PR},0)`)
  .call(d3.axisRight(yI).tickValues(indTicks).tickFormat(d3.format("d")).tickSize(5).tickPadding(1));
gi.select(".domain").remove();
gi.attr("font-family",FONT).attr("font-size",11.5);
gi.selectAll("line").attr("stroke","#000");
gi.selectAll("text").attr("fill","#000");
indLabelVal.forEach((v,k)=> flag(yI(v), v.toFixed(2), indLabelFill[k], indLabelText[k], 32));

// ---------------- TIME AXIS ----------------
const gx = svg.append("g").attr("transform",`translate(0.5,${AX_Y})`)
  .call(d3.axisBottom(x).tickValues(tickBars).tickFormat((d,i)=>timeLabels[i]).tickSize(5).tickPadding(3));
gx.select(".domain").remove();
gx.attr("font-family",FONT).attr("font-size",11.5);
gx.selectAll("line").attr("stroke","#000");
gx.selectAll("text").attr("fill","#000");

// ---------------- FRAME ----------------
const fr = svg.append("g").attr("stroke","#000").attr("fill","none").attr("shape-rendering","crispEdges");
fr.append("rect").attr("x",2.5).attr("y",27.5).attr("width",1436).attr("height",810).attr("stroke-width",1.5);
[606.5,648.5,690.5].forEach(v=> fr.append("line").attr("x1",2.5).attr("x2",1438.5).attr("y1",v).attr("y2",v).attr("stroke-width",1.5));
fr.append("line").attr("x1",PR).attr("x2",PR).attr("y1",27.5).attr("y2",AX_Y).attr("stroke-width",1.5);
fr.append("line").attr("x1",2.5).attr("x2",PR).attr("y1",AX_Y).attr("y2",AX_Y).attr("stroke-width",1.5);
</script>
</body></html>
